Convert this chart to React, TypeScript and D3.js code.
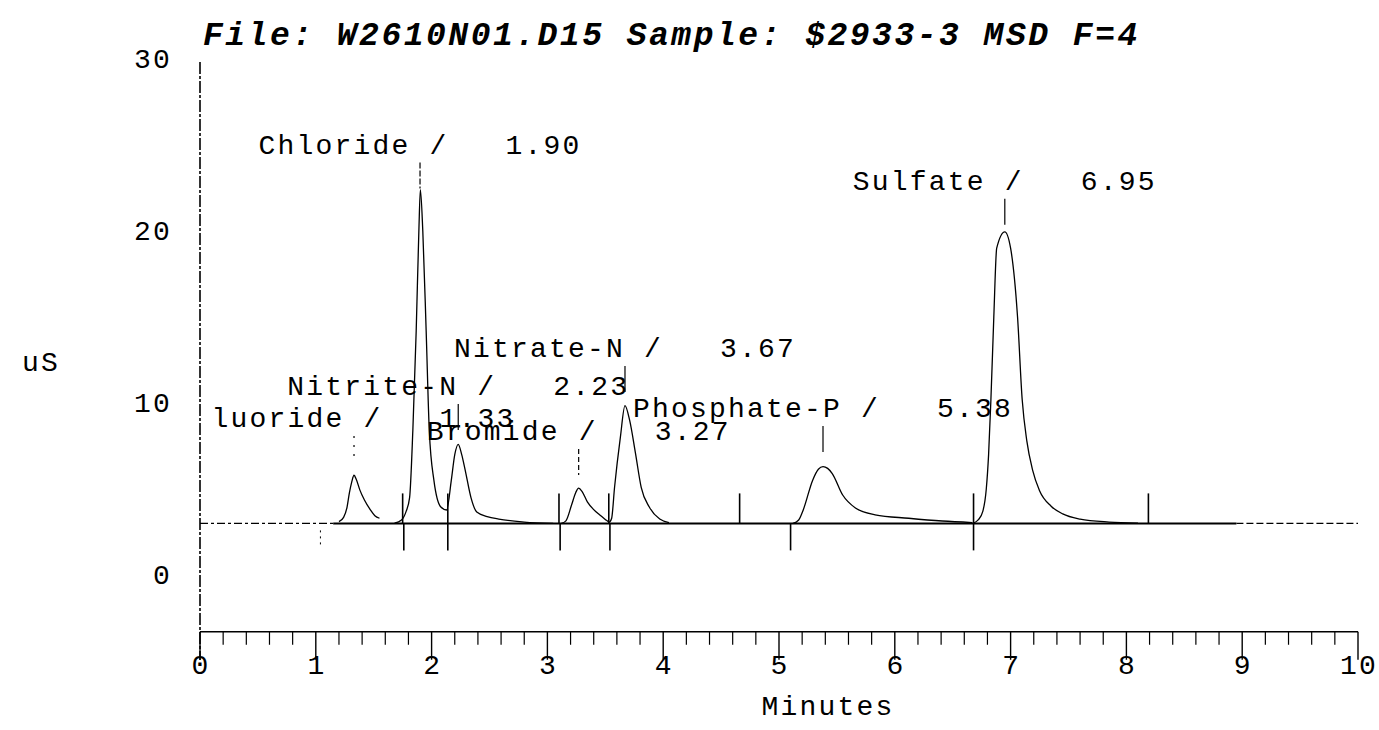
import React from "react";
import * as d3 from "d3";

// Ion chromatogram: conductivity (uS) against retention time (minutes)

const titleText = "File: W2610N01.D15 Sample: $2933-3 MSD F=4";

const peakNames = ["Fluoride", "Chloride", "Nitrite-N", "Bromide", "Nitrate-N", "Phosphate-P", "Sulfate"];
const retentionTimes = [1.33, 1.9, 2.23, 3.27, 3.67, 5.38, 6.95];
// height (uS) at which each peak's annotation is written
const labelLevels = [8.6, 24.5, 10.47, 7.85, 12.67, 9.19, 22.4];
// stroke pattern of each peak's pointer line ("" = solid)
const pointerDashes = ["2 7", "6 2", "", "5 3", "", "", ""];

const baselineLevel = 3.0;

// detector trace, one segment per peak group: [minutes, uS]
const fluorideTrace: [number, number][] = [
  [1.2, 3.1], [1.24, 3.35], [1.27, 3.95], [1.29, 4.77], [1.31, 5.4], [1.33, 5.8], [1.35, 5.55],
  [1.38, 4.95], [1.42, 4.36], [1.47, 3.8], [1.51, 3.45], [1.55, 3.3],
];
const chlorideNitriteTrace: [number, number][] = [
  [1.68, 3.02], [1.74, 3.2], [1.78, 3.7], [1.81, 4.5], [1.838, 8.4], [1.867, 14.2], [1.89, 20.0],
  [1.903, 22.4], [1.924, 20.0], [1.953, 14.2], [1.98, 8.4], [2.02, 5.5], [2.08, 3.95], [2.13, 3.78],
  [2.17, 5.5], [2.2, 7.0], [2.23, 7.6], [2.26, 7.0], [2.29, 6.1], [2.34, 4.5], [2.39, 3.66],
  [2.48, 3.4], [2.58, 3.25], [2.8, 3.08], [3.05, 3.0],
];
const bromideTrace: [number, number][] = [
  [3.12, 3.0], [3.16, 3.15], [3.21, 4.1], [3.245, 4.8], [3.27, 5.05], [3.3, 4.85], [3.345, 4.25],
  [3.4, 3.8], [3.45, 3.5], [3.51, 3.18], [3.535, 3.05],
];
const nitrateTrace: [number, number][] = [
  [3.535, 3.05], [3.555, 3.3], [3.58, 5.1], [3.63, 8.0], [3.67, 9.85], [3.71, 9.0], [3.76, 7.1],
  [3.81, 5.1], [3.88, 3.95], [3.97, 3.25], [4.05, 3.05],
];
const phosphateTrace: [number, number][] = [
  [5.12, 3.0], [5.17, 3.2], [5.21, 3.8], [5.29, 5.5], [5.34, 6.15], [5.38, 6.3], [5.42, 6.2],
  [5.46, 5.9], [5.55, 4.65], [5.66, 3.9], [5.83, 3.5], [6.12, 3.3], [6.41, 3.14], [6.67, 3.05],
];
const sulfateTrace: [number, number][] = [
  [6.68, 3.02], [6.72, 3.2], [6.76, 3.7], [6.79, 5.0], [6.81, 7.0], [6.83, 10.2], [6.855, 15.0],
  [6.88, 19.0], [6.95, 19.95], [7.0, 19.0], [7.06, 15.0], [7.1, 10.2], [7.14, 7.8], [7.19, 6.1],
  [7.25, 4.9], [7.35, 4.0], [7.45, 3.55], [7.6, 3.25], [7.85, 3.08], [8.1, 3.02],
];
const traceSegments = [fluorideTrace, chlorideNitriteTrace, bromideTrace, nitrateTrace, phosphateTrace, sulfateTrace];

// integration marks on the baseline (minutes)
const peakEndMarks = [1.75, 2.14, 3.1, 3.53, 4.66, 6.68, 8.19];
const peakStartMarks = [1.76, 2.14, 3.11, 3.54, 5.1, 6.68];
const faintMarks = [1.04];

const xTickValues = d3.range(0, 11);
const xMinorValues = d3.range(0, 10.001, 0.2).filter((v) => Math.abs(v - Math.round(v)) > 1e-6);
const yTickValues = [0, 10, 20, 30];

const W = 1379;
const H = 730;
const FONT = "'Liberation Mono', 'Courier New', monospace";
const FS = 28;
const CHAR_W = 19;
const LS = CHAR_W - FS * 0.6;

export default function App() {
  const x = d3.scaleLinear().domain([0, 10]).range([200, 1358]);
  const y = d3.scaleLinear().domain([0, 30]).range([575, 59]);
  const yBottom = y(-3.3);
  const plotLeft = x(0);

  const line = d3
    .line<[number, number]>()
    .x((d) => x(d[0]))
    .y((d) => y(d[1]))
    .curve(d3.curveMonotoneX);

  const yb = y(baselineLevel);

  const labels = peakNames.map((name, i) => {
    const text = `${name} /   ${retentionTimes[i].toFixed(2)}`;
    const cx = x(retentionTimes[i]);
    let start = cx - (text.length * CHAR_W) / 2;
    // characters whose cell falls left of the plot are not printed
    const drop = start < plotLeft ? Math.ceil((plotLeft - start) / CHAR_W) : 0;
    start += drop * CHAR_W;
    return { text: text.slice(drop), start, cx, ly: y(labelLevels[i]), dash: pointerDashes[i] };
  });

  return (
    <svg width={W} height={H} style={{ display: "block", position: "absolute", left: 0, top: 0, background: "#fff" }}>
      <rect x={0} y={0} width={W} height={H} fill="#fff" />
      {/* title */}
      <text
        x={203}
        y={45}
        fontFamily={FONT}
        fontSize={33}
        fontWeight="bold"
        fontStyle="italic"
        letterSpacing={22.3 - 33 * 0.6}
        fill="#000"
        style={{ whiteSpace: "pre" }}
      >
        {titleText}
      </text>

      {/* y axis */}
      <line x1={plotLeft} x2={plotLeft} y1={62} y2={660} stroke="#000" strokeWidth={1.6} strokeDasharray="12 2 3 2" />
      {yTickValues.map((v) => (
        <text
          key={v}
          x={172}
          y={y(v) + 9}
          textAnchor="end"
          fontFamily={FONT}
          fontSize={FS}
          letterSpacing={LS}
          fill="#000"
        >
          {v}
        </text>
      ))}
      <text x={22} y={371} fontFamily={FONT} fontSize={FS} letterSpacing={LS} fill="#000">
        uS
      </text>

      {/* x axis */}
      <line x1={plotLeft} x2={x(10)} y1={yBottom} y2={yBottom} stroke="#000" strokeWidth={1.4} />
      {xTickValues.map((v) => (
        <g key={v}>
          <line x1={x(v)} x2={x(v)} y1={yBottom} y2={yBottom + 28} stroke="#000" strokeWidth={1.4} />
          <text
            x={x(v) + LS / 2}
            y={674}
            textAnchor="middle"
            fontFamily={FONT}
            fontSize={FS}
            letterSpacing={LS}
            fill="#000"
          >
            {v}
          </text>
        </g>
      ))}
      {xMinorValues.map((v) => (
        <line key={v} x1={x(v)} x2={x(v)} y1={yBottom} y2={yBottom + 13} stroke="#000" strokeWidth={1.2} />
      ))}
      <text x={828} y={715} textAnchor="middle" fontFamily={FONT} fontSize={FS} letterSpacing={LS} fill="#000">
        Minutes
      </text>

      {/* baseline */}
      <line x1={x(0)} x2={x(1.15)} y1={yb} y2={yb} stroke="#000" strokeWidth={1.2} strokeDasharray="8 3 3 3" />
      <line x1={x(1.15)} x2={x(8.95)} y1={yb} y2={yb} stroke="#000" strokeWidth={2} />
      <line x1={x(8.95)} x2={x(10)} y1={yb} y2={yb} stroke="#000" strokeWidth={1.1} strokeDasharray="7 3" />

      {/* detector trace */}
      {traceSegments.map((seg, i) => (
        <path key={i} d={line(seg) ?? ""} fill="none" stroke="#000" strokeWidth={1.3} />
      ))}

      {/* integration marks */}
      {peakEndMarks.map((t) => (
        <line key={"e" + t} x1={x(t)} x2={x(t)} y1={yb - 30} y2={yb} stroke="#000" strokeWidth={1.6} />
      ))}
      {peakStartMarks.map((t) => (
        <line key={"s" + t} x1={x(t)} x2={x(t)} y1={yb} y2={yb + 27} stroke="#000" strokeWidth={1.6} />
      ))}
      {faintMarks.map((t) => (
        <line key={"f" + t} x1={x(t)} x2={x(t)} y1={yb + 7} y2={yb + 24} stroke="#000" strokeWidth={1} strokeDasharray="2 4" />
      ))}

      {/* peak annotations */}
      {labels.map((l, i) => (
        <g key={i}>
          <line
            x1={l.cx}
            x2={l.cx}
            y1={l.ly + 9}
            y2={l.ly + 35}
            stroke="#000"
            strokeWidth={1.2}
            strokeDasharray={l.dash || undefined}
          />
          <text
            x={l.start}
            y={l.ly}
            fontFamily={FONT}
            fontSize={FS}
            letterSpacing={LS}
            fill="#000"
            style={{ whiteSpace: "pre" }}
          >
            {l.text}
          </text>
        </g>
      ))}
    </svg>
  );
}
